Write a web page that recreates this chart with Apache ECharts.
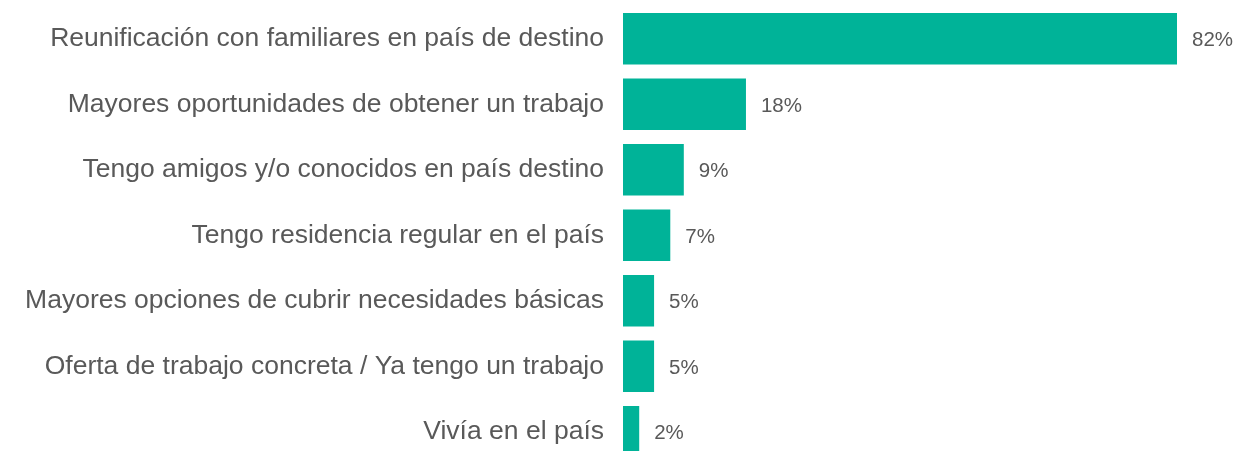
<!DOCTYPE html>
<html>
<head>
<meta charset="utf-8">
<script src="https://cdn.jsdelivr.net/npm/echarts@6/dist/echarts.min.js"></script>
<style>
  html, body { margin: 0; padding: 0; background: #fff; }
  #chart { width: 1238px; height: 451px; }
</style>
</head>
<body>
<div id="chart"></div>
<script>
const categories = [
  'Reunificación con familiares en país de destino',
  'Mayores oportunidades de obtener un trabajo',
  'Tengo amigos y/o conocidos en país destino',
  'Tengo residencia regular en el país',
  'Mayores opciones de cubrir necesidades básicas',
  'Oferta de trabajo concreta / Ya tengo un trabajo',
  'Vivía en el país'
]
const values = [82, 18.2, 9, 7, 4.6, 4.6, 2.4]

const chart = echarts.init(document.getElementById('chart'))
chart.setOption({
  animation: false,
  // the last bar runs past the bottom edge, so the grid is taller than the canvas
  grid: { left: 623, right: 61, top: 6, height: 458.5, outerBoundsMode: 'none' },
  xAxis: {
    type: 'value',
    min: 0,
    max: 82,
    show: false
  },
  yAxis: {
    type: 'category',
    inverse: true,
    data: categories,
    axisLine: { show: false },
    axisTick: { show: false },
    axisLabel: {
      margin: 19,
      padding: [4, 0, 0, 0],
      color: '#595959',
      fontSize: 26.5,
      fontFamily: 'Liberation Sans, Arial, sans-serif'
    }
  },
  series: [
    {
      type: 'bar',
      data: values,
      barCategoryGap: '21%',
      itemStyle: { color: '#00B398' },
      label: {
        show: true,
        position: 'right',
        distance: 15,
        offset: [0, 2],
        color: '#595959',
        fontSize: 20.5,
        fontFamily: 'Liberation Sans, Arial, sans-serif',
        formatter: p => Math.round(p.value) + '%'
      }
    }
  ]
})
</script>
</body>
</html>
